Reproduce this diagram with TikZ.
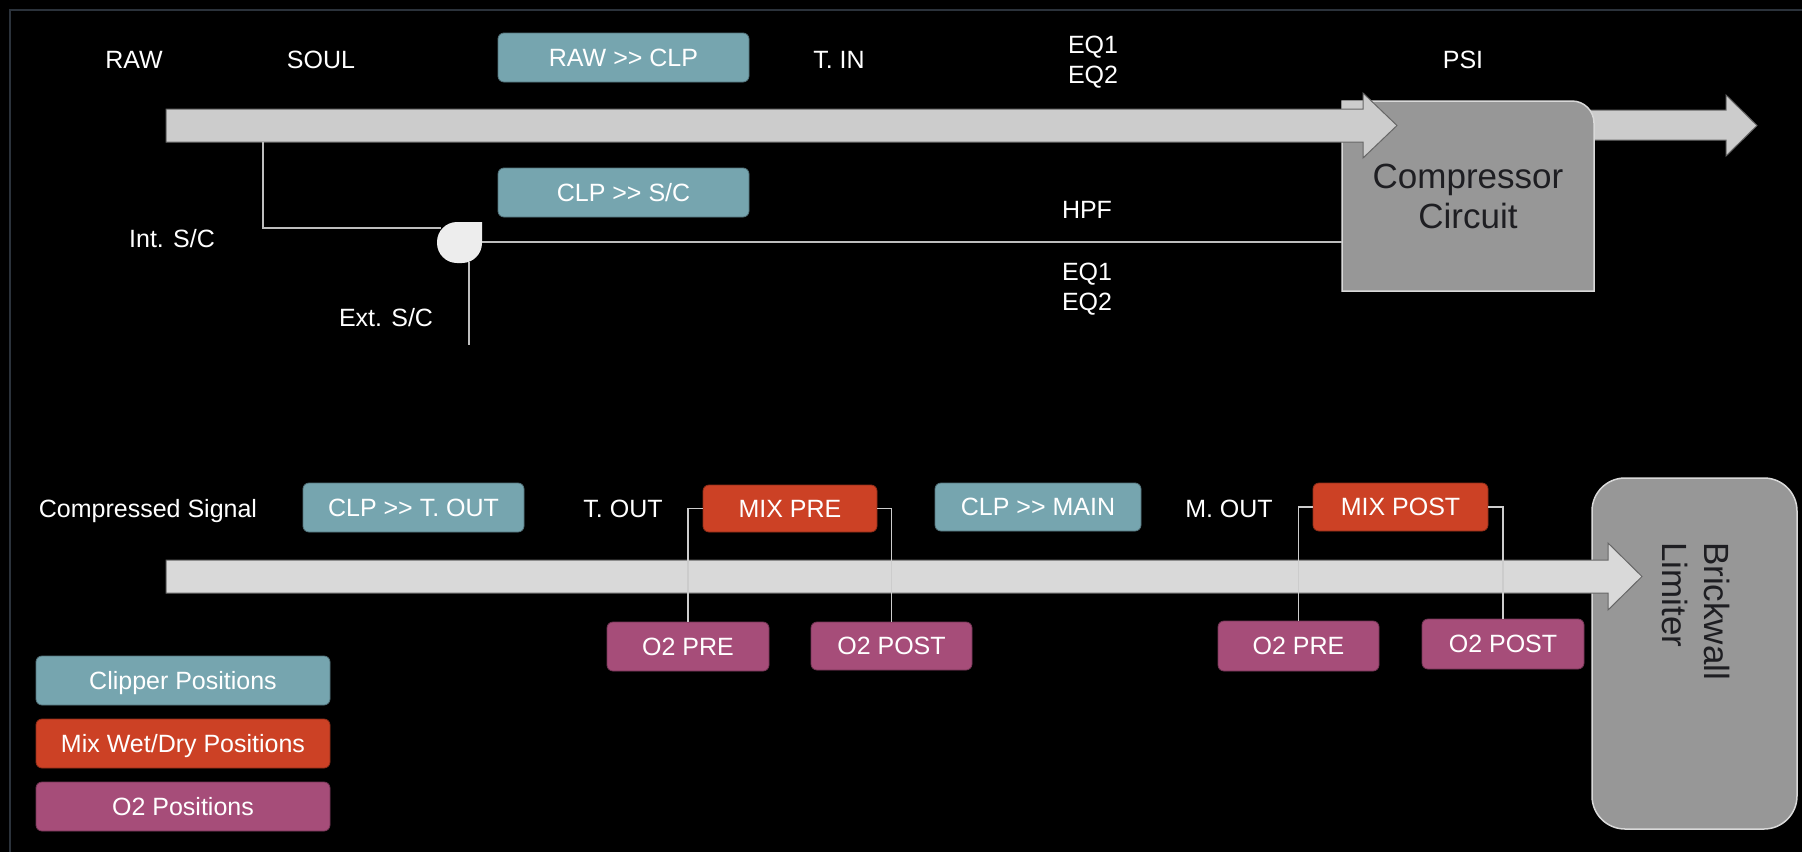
\documentclass[tikz,border=0pt]{standalone}
\usepackage{fontspec}
\newfontfamily\lab{Liberation Sans}
\definecolor{clpcol}{HTML}{76A5AF}
\definecolor{mixcol}{HTML}{CC4125}
\definecolor{otwocol}{HTML}{A64D79}
\definecolor{arrowA}{HTML}{CCCCCC}
\definecolor{arrowB}{HTML}{D9D9D9}
\definecolor{blockgray}{HTML}{979797}
\definecolor{framecol}{HTML}{2B323B}
\definecolor{wirecol}{HTML}{BDBDBD}
\definecolor{blocktext}{HTML}{1E1E22}
\tikzset{
  lbl/.style={text=white, font=\lab\fontsize{25}{30}\selectfont, inner sep=0pt, text height=17.9pt, text depth=0pt},
  pbox/.style={lbl, rounded corners=6pt, minimum height=49pt},
  clpbox/.style={pbox, fill=clpcol, draw=clpcol!70!black, line width=0.8pt},
  mixbox/.style={pbox, fill=mixcol, draw=mixcol!70!black, line width=0.8pt},
  otwobox/.style={pbox, fill=otwocol, draw=otwocol!70!black, line width=0.8pt},
  bigtext/.style={text=blocktext, font=\lab\fontsize{35}{40}\selectfont, inner sep=0pt, text height=25pt, text depth=0pt},
  wire/.style={draw=wirecol, line width=2pt},
  bracket/.style={draw=arrowA, line width=1.6pt},
  blockarrowA/.style={fill=arrowA, draw=black!60, line width=1pt, line join=miter},
  blockarrowB/.style={fill=arrowB, draw=black!60, line width=1pt, line join=miter},
  block/.style={fill=blockgray, draw=black!15, line width=1.5pt}
}
\begin{document}
\begin{tikzpicture}[x=1pt, y=-1pt]
\useasboundingbox (0,0) rectangle (1802,852);
\fill[black] (0,0) rectangle (1802,852);
% frame
\draw[framecol, line width=2pt] (10,852) -- (10,10) -- (1802,10);

% ---------- top section ----------
% output arrow (behind compressor)
\draw[blockarrowA] (1588,110) -- (1726,110) -- (1726,95) -- (1757,125.5) -- (1726,156) -- (1726,140) -- (1588,140) -- cycle;
% compressor block
\draw[block] (1342,291) -- (1342,101) -- (1572,101) arc[start angle=90, end angle=0, radius=22pt] -- (1594,291) -- cycle;
\node[bigtext] (comp1) at (1468,176) {Compressor};
\node[bigtext] (comp2) at (1468,216) {Circuit};
\coordinate (compL) at (1342,242);
% main arrow
\fill[arrowA] (1342,101) rectangle (1363,109);
\draw[blockarrowA] (166,109) -- (1363,109) -- (1363,93) -- (1397,125.5) -- (1363,158) -- (1363,142) -- (166,142) -- cycle;

% labels
\node[lbl] (raw) at (134,60) {RAW};
\node[lbl] (soul) at (321,60) {SOUL};
\node[clpbox, minimum width=251pt] (rawclp) at (623.5,57.5) {RAW >> CLP};
\node[lbl] (tin) at (839,60) {T. IN};
\node[lbl] (eqa) at (1093,45) {EQ1};
\node[lbl] (eqb) at (1093,75) {EQ2};
\node[lbl] (psi) at (1463,60) {PSI};
\node[clpbox, minimum width=251pt] (clpsc) at (623.5,192.5) {CLP >> S/C};
\node[lbl] (intsc) at (172,239) {Int. S/C};
\node[lbl] (extsc) at (386,318) {Ext. S/C};
\node[lbl] (hpf) at (1087,210) {HPF};
\node[lbl] (eqc) at (1087,272) {EQ1};
\node[lbl] (eqd) at (1087,302) {EQ2};

% side chain
\coordinate (tap) at (263,142);
\coordinate (gateL) at (441,228);
\coordinate (gateR) at (482,242);
\coordinate (gateB) at (469,262);
\coordinate (extend) at (469,345);
\draw[wire] (tap) |- (gateL);
\draw[wire] (gateR) -- (compL);
\draw[wire] (gateB) -- (extend);
\fill[black!7] (482,222) [rounded corners=20pt] -- (482,263) -- (437,263) -- (437,222) [sharp corners] -- cycle;

% ---------- bottom section ----------
\draw[block, rounded corners=33pt] (1592,478) rectangle (1797,829);
\node[bigtext, rotate=-90, anchor=west] (brick) at (1717,542) {Brickwall};
\node[bigtext, rotate=-90, anchor=west] (limit) at (1675,542) {Limiter};
\draw[blockarrowB] (166,560) -- (1608,560) -- (1608,543) -- (1642,576.5) -- (1608,610) -- (1608,593) -- (166,593) -- cycle;

\node[lbl] (cs) at (148,509) {Compressed Signal};
\node[clpbox, minimum width=221pt] (clptout) at (413.5,507.5) {CLP >> T. OUT};
\node[lbl] (tout) at (623,509) {T. OUT};
\node[mixbox, minimum width=174pt, minimum height=47pt] (mixpre) at (790,508.5) {MIX PRE};
\node[clpbox, minimum width=206pt, minimum height=48pt] (clpmain) at (1038,507) {CLP >> MAIN};
\node[lbl] (mout) at (1229,509) {M. OUT};
\node[mixbox, minimum width=175pt, minimum height=48pt] (mixpost) at (1400.5,507) {MIX POST};

\node[otwobox, minimum width=162pt] (opre1) at (688,646.5) {O2 PRE};
\node[otwobox, minimum width=161pt, minimum height=48pt] (opost1) at (891.5,646) {O2 POST};
\node[otwobox, minimum width=161pt, minimum height=50pt] (opre2) at (1298.5,646) {O2 PRE};
\node[otwobox, minimum width=162pt, minimum height=50pt] (opost2) at (1503,644) {O2 POST};

\draw[bracket] (opre1.north) |- (mixpre.west);
\draw[bracket] (opost1.north) |- (mixpre.east);
\draw[bracket] (opre2.north) |- (mixpost.west);
\draw[bracket] (opost2.north) |- (mixpost.east);

% legend
\node[clpbox, minimum width=294pt] (legclp) at (183,680.5) {Clipper Positions};
\node[mixbox, minimum width=294pt] (legmix) at (183,743.5) {Mix Wet/Dry Positions};
\node[otwobox, minimum width=294pt] (legotwo) at (183,806.5) {O2 Positions};
\end{tikzpicture}
\end{document}
